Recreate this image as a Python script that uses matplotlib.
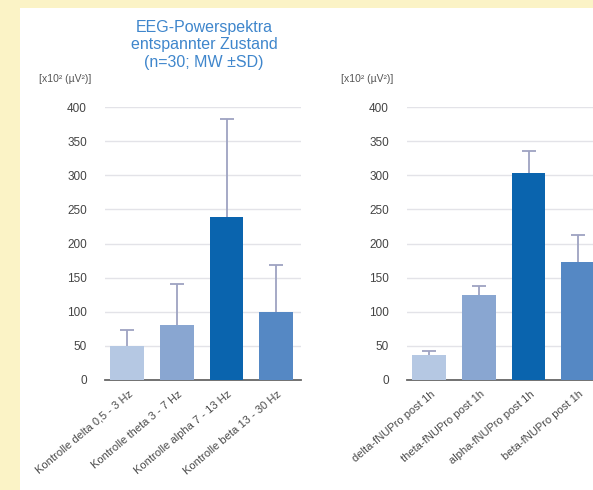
import matplotlib
matplotlib.use('Agg')
import matplotlib.pyplot as plt
from matplotlib.patches import Rectangle
import matplotlib.transforms as mtransforms
import numpy as np

plt.rcParams['font.family'] = ['Liberation Sans', 'DejaVu Sans']

# data (x10^2 uV^2)
labels_ctrl = ['Kontrolle delta 0,5 - 3 Hz', 'Kontrolle theta 3 - 7 Hz',
               'Kontrolle alpha 7 - 13 Hz', 'Kontrolle beta 13 - 30 Hz']
mean_ctrl = [50, 81, 239, 99]
sd_ctrl = [23, 60, 143, 70]

labels_post = ['delta-fNUPro post 1h', 'theta-fNUPro post 1h',
               'alpha-fNUPro post 1h', 'beta-fNUPro post 1h']
mean_post = [36, 124, 303, 173]
sd_post = [7, 14, 33, 39]

bar_colors = ['#b5c8e3', '#89a6d1', '#0a64ae', '#5588c4']
err_color = '#9ea3c2'
title = 'EEG-Powerspektra\nentspannter Zustand\n(n=30; MW \u00b1SD)'
ylab = '[x10\u00b2 (\u00b5V\u00b2)]'

W, H = 593, 490
fig = plt.figure(figsize=(W/100, H/100), dpi=100, facecolor='#fbf3c6')
fig.patches.append(Rectangle((20/W, 0), 1, 1 - 8/H, transform=fig.transFigure,
                             facecolor='white', edgecolor='none', zorder=-10))

def draw(ax, means, sds, labels, lab_x):
    x = np.arange(len(means))
    ax.bar(x, means, width=0.68, color=bar_colors, zorder=3)
    eb = ax.errorbar(x, means, yerr=[np.zeros(len(sds)), sds], fmt='none',
                     ecolor=err_color, elinewidth=1.3, capsize=5, capthick=1.3, zorder=2)
    eb[1][0].remove()  # no lower caps
    ax.set_xlim(-0.45, 3.5)
    ax.set_ylim(0, 400)
    ax.set_yticks(range(0, 401, 50))
    ax.yaxis.grid(True, color='#e3e3e8', linewidth=1, zorder=0)
    ax.set_axisbelow(True)
    for s in ['top', 'right', 'left']:
        ax.spines[s].set_visible(False)
    ax.spines['bottom'].set_color('#666666')
    ax.spines['bottom'].set_linewidth(1.3)
    ax.tick_params(axis='y', length=0, pad=13, labelsize=8.5, labelcolor='#444444')
    ax.tick_params(axis='x', length=0)
    ax.set_xticks(x)
    ax.set_xticklabels(labels, rotation=40, ha='right', va='top',
                       rotation_mode='anchor', fontsize=8, color='#4a4a4a')
    offset = mtransforms.ScaledTranslation(1/100, -4/100, fig.dpi_scale_trans)
    for t in ax.get_xticklabels():
        t.set_transform(t.get_transform() + offset)
    ax.set_facecolor('none')
    fig.text(lab_x / W, 1 - 79/H, ylab, ha='right', va='center',
             fontsize=7.5, color='#555555')

ax1 = fig.add_axes([105/W, 1 - 380/H, 196/W, 273/H])
draw(ax1, mean_ctrl, sd_ctrl, labels_ctrl, 91)

ax2 = fig.add_axes([407/W, 1 - 380/H, 196/W, 273/H])
draw(ax2, mean_post, sd_post, labels_post, 393)

fig.text(204/W, 1 - 45/H, title, ha='center', va='center', fontsize=11.5,
         color='#3f86cc', linespacing=1.2)

fig.savefig('out.png', dpi=100, facecolor=fig.get_facecolor())
